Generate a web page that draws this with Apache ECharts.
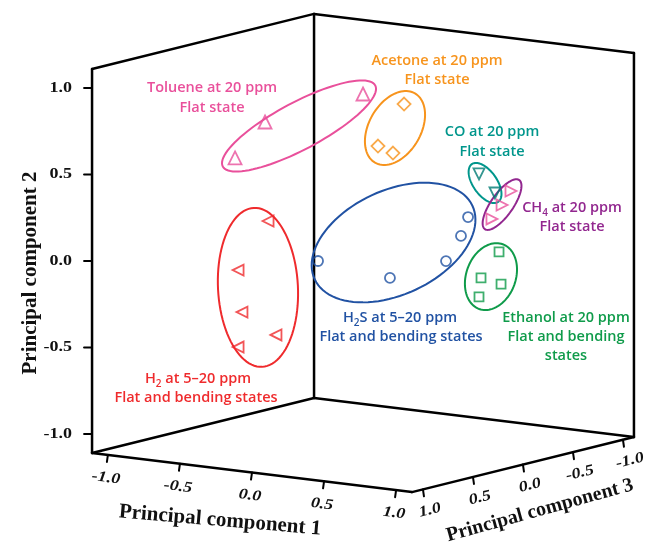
<!DOCTYPE html>
<html><head><meta charset="utf-8">
<script src="https://cdn.jsdelivr.net/npm/echarts@6/dist/echarts.min.js"></script>
<style>html,body{margin:0;padding:0;background:#fff}#c{width:647px;height:542px}</style>
</head><body><div id="c"></div>
<script>
// ---- tick labels ----
const pc1Ticks = [-1.0, -0.5, 0.0, 0.5, 1.0];
const pc2Ticks = [-1.0, -0.5, 0.0, 0.5, 1.0];
const pc3Ticks = [-1.0, -0.5, 0.0, 0.5, 1.0];
const axisTitles = ['Principal component 1', 'Principal component 2', 'Principal component 3'];

// ---- scores (PC1, PC2, PC3) ; depth (PC3) not readable -> 0 ----
const toluenePC1 = [-0.888, -0.680, 0.000];
const toluenePC2 = [0.459, 0.688, 0.919];
const toluenePC3 = [0, 0, 0];
const acetonePC1 = [0.285, 0.104, 0.208];
const acetonePC2 = [0.890, 0.629, 0.599];
const acetonePC3 = [0, 0, 0];
const coPC1 = [0.805, 0.916];
const coPC2 = [0.539, 0.440];
const coPC3 = [0, 0];
const ch4PC1 = [1.027, 0.965, 0.895];
const ch4PC2 = [0.463, 0.376, 0.288];
const ch4PC3 = [0, 0, 0];
const h2sPC1 = [-0.312, 0.187, 0.576, 0.680, 0.729];
const h2sPC2 = [-0.078, -0.125, 0.012, 0.168, 0.282];
const h2sPC3 = [0, 0, 0, 0, 0];
const ethanolPC1 = [0.944, 0.819, 0.958, 0.805];
const ethanolPC2 = [0.102, -0.061, -0.082, -0.172];
const ethanolPC3 = [0, 0, 0, 0];
const h2PC1 = [-0.659, -0.867, -0.840, -0.604, -0.867];
const h2PC2 = [0.118, -0.187, -0.427, -0.535, -0.632];
const h2PC3 = [0, 0, 0, 0, 0];

// ---- cluster rings: [centerPC1, centerPC2, semiMajor, semiMinor, angleDeg] ----
const tolueneRing = [-0.444, 0.689, 0.499, 0.136, 28];
const acetoneRing = [0.222, 0.745, 0.231, 0.150, 60];
const coRing = [0.847, 0.491, 0.133, 0.069, -55];
const ch4Ring = [0.965, 0.378, 0.173, 0.064, 55];
const h2sRing = [0.212, 0.082, 0.503, 0.301, 25];
const ethanolRing = [0.888, -0.046, 0.199, 0.143, 70];
const h2Ring = [-0.729, -0.273, 0.460, 0.231, 93];

// ---- view (oblique projection of the 3D box) ----
const E = 1.11;
const V = {ox: 363, oy: 253, u1: [144.1, 17.6], u2: [0, -173], u3: [-100, 24.8]};
function proj(a, b, c) {
  return [V.ox + a * V.u1[0] + b * V.u2[0] + c * V.u3[0],
          V.oy + a * V.u1[1] + b * V.u2[1] + c * V.u3[1]];
}
const SERIF = '"Liberation Serif","Times New Roman",serif';
const SANS = '"Open Sans","Noto Sans",sans-serif';

const chart = echarts.init(document.getElementById('c'), null, {renderer: 'canvas'});

function frameRender(params, api) {
  const P = (a, b, c) => api.coord(proj(a, b, c));
  const children = [];
  const line = (p, q, w) => children.push({type: 'line', shape: {x1: p[0], y1: p[1], x2: q[0], y2: q[1]}, style: {stroke: '#000', lineWidth: w || 2.5, lineCap: 'round'}});
  const A = P(-E, -E, E), B = P(E, -E, E), C = P(E, -E, -E), D = P(-E, -E, -E);
  const A2 = P(-E, E, E), D2 = P(-E, E, -E), C2 = P(E, E, -E);
  line(A, B); line(B, C); line(C, D); line(D, A);
  line(A, A2); line(D, D2); line(C, C2); line(A2, D2); line(D2, C2);
  // PC2 ticks (left edge)
  pc2Ticks.forEach(t => {
    const p = P(-E, t, E);
    line([p[0] - 8, p[1]], p, 2);
    children.push({type: 'text', x: p[0] - 20, y: p[1], scaleX: 1.2, style: {text: t.toFixed(1), font: 'bold 15px ' + SERIF, fill: '#111', align: 'right', verticalAlign: 'middle'}});
  });
  // PC1 ticks (front-left bottom edge)
  pc1Ticks.forEach(t => {
    const p = P(t, -E, E);
    line(p, [p[0] - 1, p[1] + 7], 2);
    children.push({type: 'text', x: p[0] - 2, y: p[1] + 23, rotation: -0.12, scaleX: 1.2, style: {text: t.toFixed(1), font: 'italic bold 15px ' + SERIF, fill: '#111', align: 'center', verticalAlign: 'middle'}});
  });
  // PC3 ticks (front-right bottom edge)
  pc3Ticks.forEach(t => {
    const p = P(E, -E, t);
    line(p, [p[0] + 1, p[1] + 7], 2);
    children.push({type: 'text', x: p[0] + 7, y: p[1] + 21, rotation: 0.24, scaleX: 1.2, style: {text: t.toFixed(1), font: 'italic bold 15px ' + SERIF, fill: '#111', align: 'center', verticalAlign: 'middle'}});
  });
  // axis titles
  const t1 = P(0, -E, E), t3 = P(E, -E, 0), t2 = P(-E, 0, E);
  children.push({type: 'text', x: t1[0] - 32, y: t1[1] + 48, rotation: -0.085, style: {text: axisTitles[0], font: 'bold 21px ' + SERIF, fill: '#111', align: 'center', verticalAlign: 'middle'}});
  children.push({type: 'text', x: t3[0] + 17, y: t3[1] + 46, rotation: 0.27, style: {text: axisTitles[2], font: 'bold 20px ' + SERIF, fill: '#111', align: 'center', verticalAlign: 'middle'}});
  children.push({type: 'text', x: t2[0] - 61, y: t2[1] + 12, rotation: Math.PI / 2, style: {text: axisTitles[1], font: 'bold 21px ' + SERIF, fill: '#111', align: 'center', verticalAlign: 'middle'}});
  return {type: 'group', children};
}

const rings = [
  [tolueneRing, '#e9509b'], [acetoneRing, '#f7941d'], [coRing, '#00968c'], [ch4Ring, '#92278f'],
  [h2sRing, '#2152a3'], [ethanolRing, '#0f9b4a'], [h2Ring, '#ef2b2d']
];
function ringRender(params, api) {
  const i = api.value(0);
  const r = rings[i][0];
  const c = proj(r[0], r[1], 0);
  const A = r[2] * 173, B = r[3] * 173, th = r[4] * Math.PI / 180;
  const pts = [];
  for (let k = 0; k < 96; k++) {
    const t = k / 96 * Math.PI * 2;
    const vx = c[0] + A * Math.cos(t) * Math.cos(th) - B * Math.sin(t) * Math.sin(th);
    const vy = c[1] - (A * Math.cos(t) * Math.sin(th) + B * Math.sin(t) * Math.cos(th));
    pts.push(api.coord([vx, vy]));
  }
  return {type: 'polygon', shape: {points: pts}, style: {fill: 'none', stroke: rings[i][1], lineWidth: 2}};
}

function pts(a, b, c) { return a.map((v, i) => proj(v, b[i], c[i])); }
function sc(name, data, symbol, rot, size, color) {
  return {type: 'scatter', name, data, symbol, symbolRotate: rot, symbolSize: size, z: 5,
    itemStyle: {color: 'rgba(0,0,0,0)', borderColor: color, borderWidth: 1.8}, silent: true};
}

function ann(x, y, text, color, rich) {
  return {type: 'text', x, y, style: {text, font: '600 14.5px ' + SANS, fill: color, align: 'center', verticalAlign: 'middle', lineHeight: 18, rich}};
}
const subRich = (color) => ({s: {fontSize: 10, fontWeight: 600, fontFamily: SANS, fill: color, verticalAlign: 'top', lineHeight: 10, padding: [9, 0, 0, 0]}});

chart.setOption({
  animation: false,
  backgroundColor: '#fff',
  grid: {left: 0, right: 0, top: 0, bottom: 0},
  xAxis: {type: 'value', min: 0, max: 647, show: false},
  yAxis: {type: 'value', min: 0, max: 542, inverse: true, show: false},
  series: [
    {type: 'custom', data: [[0, 0]], renderItem: frameRender, clip: false, silent: true, z: 1},
    {type: 'custom', data: rings.map((r, i) => [i]), renderItem: ringRender, clip: false, silent: true, z: 2},
    sc('Toluene', pts(toluenePC1, toluenePC2, toluenePC3), 'triangle', 0, 13, '#e9509b'),
    sc('Acetone', pts(acetonePC1, acetonePC2, acetonePC3), 'diamond', 0, 13, '#f7941d'),
    sc('CO', pts(coPC1, coPC2, coPC3), 'triangle', 180, 11, '#007c74'),
    sc('CH4', pts(ch4PC1, ch4PC2, ch4PC3), 'triangle', -90, 11, '#e9509b'),
    sc('H2S', pts(h2sPC1, h2sPC2, h2sPC3), 'circle', 0, 10, '#2152a3'),
    sc('Ethanol', pts(ethanolPC1, ethanolPC2, ethanolPC3), 'rect', 0, 9, '#0f9b4a'),
    sc('H2', pts(h2PC1, h2PC2, h2PC3), 'triangle', 90, 11, '#ef2b2d')
  ],
  graphic: [
    ann(212, 88, 'Toluene at 20 ppm', '#e9509b'), ann(212, 108, 'Flat state', '#e9509b'),
    ann(437, 61, 'Acetone at 20 ppm', '#f7941d'), ann(437, 80, 'Flat state', '#f7941d'),
    ann(492, 132, 'CO at 20 ppm', '#00968c'), ann(492, 152, 'Flat state', '#00968c'),
    ann(572, 208, 'CH{s|4} at 20 ppm', '#92278f', subRich('#92278f')), ann(572, 227, 'Flat state', '#92278f'),
    ann(400, 318, 'H{s|2}S at 5\u201320 ppm', '#2152a3', subRich('#2152a3')), ann(401, 337, 'Flat and bending states', '#2152a3'),
    ann(566, 318, 'Ethanol at 20 ppm', '#0f9b4a'), ann(566, 337, 'Flat and bending', '#0f9b4a'), ann(566, 356, 'states', '#0f9b4a'),
    ann(198, 379, 'H{s|2} at 5\u201320 ppm', '#ef2b2d', subRich('#ef2b2d')), ann(196, 398, 'Flat and bending states', '#ef2b2d')
  ]
});
</script>
</body></html>
